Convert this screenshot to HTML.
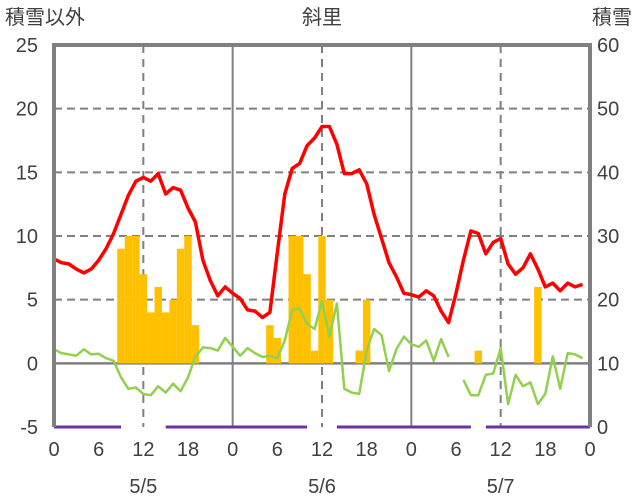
<!DOCTYPE html>
<html><head><meta charset="utf-8"><style>
html,body{margin:0;padding:0;background:#fff}
svg{display:block}
text{font-family:"Liberation Sans","Noto Sans CJK JP",sans-serif;fill:#404040}
</style></head><body>
<svg id="chart" width="636" height="501" viewBox="0 0 636 501" xmlns="http://www.w3.org/2000/svg">
<text x="5" y="24" font-size="20">積雪以外</text>
<text x="322" y="24" font-size="20" text-anchor="middle">斜里</text>
<text x="632" y="24" font-size="20" text-anchor="end">積雪</text>
<g id="grid"></g>
<g id="bars"></g>
<g id="lines"></g>
<g id="axes"></g>
</svg>
<script>
const hours = Array.from({length:73},(_,i)=>i);
const tempValues = [8.2,7.9,7.8,7.4,7.1,7.4,8.1,9.0,10.2,11.7,13.2,14.3,14.6,14.3,14.9,13.3,13.8,13.6,12.2,11.1,8.1,6.5,5.3,6.0,
5.5,5.1,4.2,4.1,3.6,4.0,8.7,13.3,15.3,15.7,17.1,17.7,18.6,18.6,17.2,14.9,14.9,15.2,14.1,11.7,9.8,7.9,6.8,5.5,
5.4,5.2,5.7,5.3,4.1,3.2,5.5,8.1,10.4,10.2,8.6,9.5,9.8,7.8,7.0,7.5,8.6,7.4,6.0,6.3,5.7,6.3,6.0,6.2];
const greenValues = [1.1,0.8,0.7,0.6,1.1,0.7,0.75,0.4,0.2,-1.1,-2.0,-1.9,-2.4,-2.5,-1.8,-2.3,-1.6,-2.2,-1.1,0.5,1.25,1.2,1.0,2.0,
1.3,0.6,1.2,0.8,0.5,0.6,0.4,1.8,4.2,4.3,3.1,2.7,4.9,2.1,4.7,-2.0,-2.3,-2.4,1.0,2.7,2.2,-0.6,1.1,2.1,
1.5,1.3,1.8,0.2,1.9,0.5,null,-1.3,-2.5,-2.5,-0.9,-0.8,1.2,-3.2,-0.9,-1.8,-1.5,-3.2,-2.4,0.55,-2.0,0.8,0.7,0.4];
const purpleValues = [-5,-5,-5,-5,-5,-5,-5,-5,-5,-5,null,null,null,null,null,-5,-5,-5,-5,-5,-5,-5,-5,-5,
-5,-5,-5,-5,-5,-5,-5,-5,-5,-5,-5,null,null,null,-5,-5,-5,-5,-5,-5,-5,-5,-5,-5,
-5,-5,-5,-5,-5,-5,-5,-5,-5,null,-5,-5,-5,-5,-5,-5,-5,-5,-5,-5,-5,-5,-5,-5,-5];
const snowHours = [9,10,11,12,13,14,15,16,17,18,19,29,30,32,33,34,35,36,37,41,42,57,65];
const snowValues = [28,30,30,24,18,22,18,20,28,30,16,16,14,30,30,24,12,30,20,12,20,12,22];
const leftTicks = [25,20,15,10,5,0,-5];
const rightTicks = [60,50,40,30,20,10,0];
const hourTickLabels = ["0","6","12","18","0","6","12","18","0","6","12","18","0"];
const dateLabels = ["5/5","5/6","5/7"];

const X0=54, X1=590, Y25=45, Ym5=427;
const x = h => X0 + h*(X1-X0)/72;
const yL = v => Ym5 - (v+5)*(Ym5-Y25)/30;
const yR = v => Ym5 - v*(Ym5-Y25)/60;
const NS="http://www.w3.org/2000/svg";
function mk(tag, attrs, parent){const e=document.createElementNS(NS,tag);for(const k in attrs)e.setAttribute(k,attrs[k]);document.getElementById(parent).appendChild(e);return e;}

[5,10,15,20].forEach(v=>{
 const l=mk('line',{x1:X0,x2:X1,y1:yL(v),y2:yL(v),stroke:'#808080','stroke-width':2,'stroke-dasharray':'8,5'},'grid');
 
 
});
[12,36,60].forEach(h=>{
 const l=mk('line',{x1:x(h),x2:x(h),y1:Y25,y2:Ym5,stroke:'#808080','stroke-width':2,'stroke-dasharray':'8,6'},'grid');
 
 
});
[24,48].forEach(h=>{
 const l=mk('line',{x1:x(h),x2:x(h),y1:Y25,y2:Ym5,stroke:'#808080','stroke-width':2},'grid');
 
 
});

const bw=(X1-X0)/72;
snowHours.forEach((h,i)=>{
 const top=yR(snowValues[i]), base=yR(10);
 const r=mk('rect',{x:x(h)-bw/2,y:Math.min(top,base),width:bw,height:Math.abs(base-top),fill:'#FFC000'},'bars');
 
 
});

const z=mk('line',{x1:X0,x2:X1,y1:yL(0),y2:yL(0),stroke:'#808080','stroke-width':2.5},'grid');



function path(vals, yf){
 let d='', pen=false;
 vals.forEach((v,i)=>{ if(v===null){pen=false;return;} d+=(pen?'L':'M')+x(hours[i]).toFixed(1)+' '+yf(v).toFixed(1)+' '; pen=true; });
 return d;
}
const pl=mk('path',{d:path(purpleValues,yL),fill:'none',stroke:'#7030A0','stroke-width':3},'lines');


const gl=mk('path',{d:path(greenValues,yL),fill:'none',stroke:'#92D050','stroke-width':2.5,'stroke-linejoin':'round'},'lines');


const rl=mk('path',{d:path(tempValues,yL),fill:'none',stroke:'#FF0000','stroke-width':3.5,'stroke-linejoin':'round'},'lines');



const f=mk('path',{d:`M${X0} ${Ym5} L${X0} ${Y25} L${X1} ${Y25} L${X1} ${Ym5}`,fill:'none',stroke:'#808080','stroke-width':4},'axes');



leftTicks.forEach(v=>{
 const t=mk('text',{x:38,y:yL(v)+7,'font-size':20,'text-anchor':'end'},'axes');t.textContent=v;
 
 
});
rightTicks.forEach(v=>{
 const t=mk('text',{x:597,y:yR(v)+7,'font-size':20},'axes');t.textContent=v;
 
 
});
hourTickLabels.forEach((s,i)=>{
 const t=mk('text',{x:x(i*6),y:456,'font-size':20,'text-anchor':'middle'},'axes');t.textContent=s;
 
 
});
dateLabels.forEach((s,i)=>{
 const t=mk('text',{x:x(12+24*i),y:493,'font-size':20,'text-anchor':'middle'},'axes');t.textContent=s;
 
 
});
</script>
</body></html>
